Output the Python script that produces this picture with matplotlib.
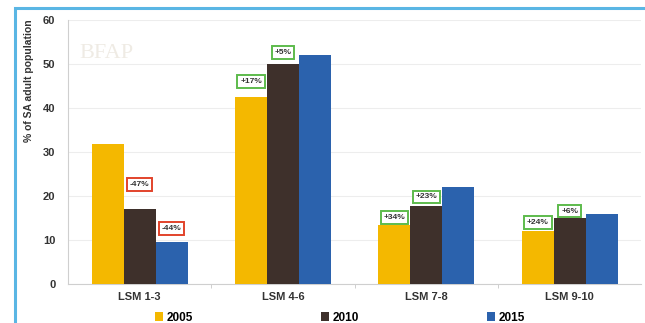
import numpy as np
import matplotlib.pyplot as plt
from matplotlib.patches import Rectangle

plt.rcParams['font.family'] = ['Liberation Sans', 'DejaVu Sans']

# data
groups = ['LSM 1-3', 'LSM 4-6', 'LSM 7-8', 'LSM 9-10']
years = ['2005', '2010', '2015']
v2005 = [31.8, 42.5, 13.4, 12.0]
v2010 = [17.0, 50.0, 17.7, 15.0]
v2015 = [9.5, 52.0, 22.0, 15.9]
colors = ['#f4b800', '#3e302b', '#2b62ad']

# change labels: (group index, series index, text, y position)
changes = [(0, 1, '-47%', 22.7), (0, 2, '-44%', 12.7),
           (1, 0, '+17%', 46.0), (1, 1, '+5%', 52.6),
           (2, 0, '+34%', 15.2), (2, 1, '+23%', 19.8),
           (3, 0, '+24%', 13.9), (3, 1, '+6%', 16.6)]

fig = plt.figure(figsize=(6.45, 3.23), dpi=100)
ax = fig.add_axes([0.1054, 0.1207, 0.889, 0.817])

x = np.arange(len(groups))
w = 0.223
series = [v2005, v2010, v2015]
for i, (vals, c, lab) in enumerate(zip(series, colors, years)):
    ax.bar(x + (i - 1) * w, vals, w, color=c, label=lab, zorder=3)

for g, s, txt, ypos in changes:
    ec = '#e2432b' if txt.startswith('-') else '#5dbb4c'
    ax.text(x[g] + (s - 1) * w, ypos, txt, ha='center', va='center',
            fontsize=6, fontweight='bold', color='#333333', zorder=5,
            bbox=dict(boxstyle='square,pad=0.35', fc='white', ec=ec, lw=1.4))

ax.set_xlim(-0.5, 3.5)
ax.set_ylim(0, 60)
ax.set_yticks(range(0, 61, 10))
ax.set_xticks(x)
ax.set_xticklabels(groups, fontsize=8, fontweight='bold', color='#333333')
ax.set_xticks([0.5, 1.5, 2.5], minor=True)
ax.tick_params(axis='x', which='major', length=0, pad=6)
ax.tick_params(axis='x', which='minor', length=3, color='#c8c8c8')
ax.tick_params(axis='y', length=0, pad=9, labelsize=8, labelcolor='#333333')
for t in ax.get_yticklabels():
    t.set_fontweight('bold')
ax.grid(axis='y', color='#ededed', lw=0.8, zorder=0)
for sp in ['top', 'right']:
    ax.spines[sp].set_visible(False)
for sp in ['left', 'bottom']:
    ax.spines[sp].set_color('#cfcfcf')

ax.set_ylabel('% of SA adult population', fontsize=7.5, fontweight='bold', color='#333333')
ax.yaxis.set_label_coords(-0.06, 0.77)

# faint watermark
ax.text(0.02, 0.855, 'BFAP', transform=ax.transAxes, fontsize=16,
        family='Liberation Serif', color='#efebe4', zorder=1)

fig.legend(loc='lower center', bbox_to_anchor=(0.527, -0.035), ncol=3, frameon=False,
           handlelength=0.7, handleheight=0.7, handletextpad=0.3,
           columnspacing=10.8, prop={'weight': 'bold', 'size': 8.5})

# blue frame of the screenshot
fig.patches.append(Rectangle((15 / 645, -0.05), 1.0, 1 - 8 / 323 + 0.05, transform=fig.transFigure,
                             fill=False, ec='#5ab6e4', lw=2.2))

fig.savefig('out.png', dpi=100)
